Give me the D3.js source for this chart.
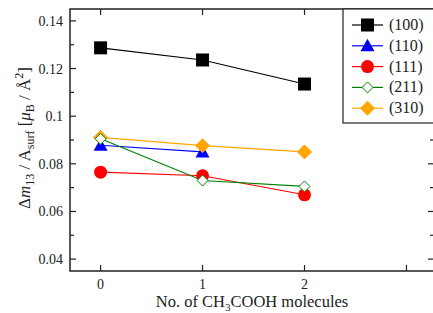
<!doctype html>
<html>
<head>
<style>
  body { margin: 0; background: #fff; }
</style>
<script src="https://d3js.org/d3.v7.min.js"></script>
</head>
<body>
<svg width="433" height="313" font-family="'Liberation Serif', 'Times New Roman', serif"></svg>
<script>
var molecules = [0, 1, 2];
var xTicks = [0, 1, 2, 3];
var yTicks = [0.04, 0.06, 0.08, 0.1, 0.12, 0.14];
var yMinor = [0.05, 0.07, 0.09, 0.11, 0.13];
var s100 = [0.1287, 0.1236, 0.1135];
var s110 = [0.0878, 0.0850];
var s111 = [0.0765, 0.0750, 0.0670];
var s211 = [0.0905, 0.0730, 0.0705];
var s310 = [0.0911, 0.0876, 0.0850];
var names = ["(100)", "(110)", "(111)", "(211)", "(310)"];

var series = [
  { name: names[0], vals: s100, color: "#000", shape: "square", fill: "#000" },
  { name: names[1], vals: s110, color: "#0000ff", shape: "triangle", fill: "#0000ff" },
  { name: names[2], vals: s111, color: "#ff0000", shape: "circle", fill: "#ff0000" },
  { name: names[3], vals: s211, color: "#008000", shape: "diamond", fill: "#fff" },
  { name: names[4], vals: s310, color: "#ffa500", shape: "diamond", fill: "#ffa500" }
];

var svg = d3.select("svg");
var pLeft = 70, pRight = 434, pTop = 9, pBottom = 271;

var x = d3.scaleLinear().domain([-0.3, 3.27]).range([pLeft, pRight]);
var y = d3.scaleLinear().domain([0.035, 0.145]).range([pBottom, pTop]);

// frame
svg.append("rect")
  .attr("x", pLeft).attr("y", pTop)
  .attr("width", pRight - pLeft).attr("height", pBottom - pTop)
  .attr("fill", "none").attr("stroke", "#222").attr("stroke-width", 1.5);

// ticks
var g = svg.append("g").attr("stroke", "#222").attr("stroke-width", 1.2);
xTicks.forEach(function(t) {
  g.append("line").attr("x1", x(t)).attr("x2", x(t)).attr("y1", pBottom).attr("y2", pBottom - 6);
  g.append("line").attr("x1", x(t)).attr("x2", x(t)).attr("y1", pTop).attr("y2", pTop + 6);
});
yTicks.forEach(function(t) {
  g.append("line").attr("x1", pLeft).attr("x2", pLeft + 6).attr("y1", y(t)).attr("y2", y(t));
  g.append("line").attr("x1", pRight).attr("x2", pRight - 6).attr("y1", y(t)).attr("y2", y(t));
});
yMinor.forEach(function(t) {
  g.append("line").attr("x1", pLeft).attr("x2", pLeft + 4).attr("y1", y(t)).attr("y2", y(t));
  g.append("line").attr("x1", pRight).attr("x2", pRight - 4).attr("y1", y(t)).attr("y2", y(t));
});

// tick labels
svg.selectAll(".xl").data(molecules).enter().append("text")
  .attr("x", function(d) { return x(d); }).attr("y", pBottom + 18)
  .attr("text-anchor", "middle").attr("font-size", 14).attr("fill", "#222")
  .text(function(d) { return d; });
svg.selectAll(".yl").data(yTicks).enter().append("text")
  .attr("x", pLeft - 7).attr("y", function(d) { return y(d) + 5; })
  .attr("text-anchor", "end").attr("font-size", 14).attr("fill", "#222")
  .text(function(d) { return d === 0.1 ? "0.1" : d.toFixed(2); });

// axis titles
var xt = svg.append("text").attr("x", (pLeft + pRight) / 2).attr("y", 307)
  .attr("text-anchor", "middle").attr("font-size", 16.5).attr("fill", "#222");
xt.append("tspan").text("No. of CH");
xt.append("tspan").attr("font-size", 11).attr("dy", 4).text("3");
xt.append("tspan").attr("dy", -4).text("COOH molecules");

var yt = svg.append("text")
  .attr("transform", "translate(30," + 138 + ") rotate(-90)")
  .attr("text-anchor", "middle").attr("font-size", 17).attr("fill", "#222");
yt.append("tspan").text("\u0394");
yt.append("tspan").attr("font-style", "italic").text("m");
yt.append("tspan").attr("font-size", 12).attr("dy", 4).text("13");
yt.append("tspan").attr("dy", -4).text(" / A");
yt.append("tspan").attr("font-size", 12).attr("dy", 4).text("surf");
yt.append("tspan").attr("dy", -4).text("  [");
yt.append("tspan").attr("font-style", "italic").text("\u03bc");
yt.append("tspan").attr("font-size", 12).attr("dy", 4).text("B");
yt.append("tspan").attr("dy", -4).text(" / \u00c5");
yt.append("tspan").attr("font-size", 12).attr("dy", -7).text("2");
yt.append("tspan").attr("dy", 7).text("]");

function drawMarker(sel, shape, color, fill, cx, cy) {
  if (shape === "square") {
    sel.append("rect").attr("x", cx - 6.5).attr("y", cy - 6.5).attr("width", 13).attr("height", 13)
      .attr("fill", fill);
  } else if (shape === "circle") {
    sel.append("circle").attr("cx", cx).attr("cy", cy).attr("r", 6.5).attr("fill", fill);
  } else if (shape === "triangle") {
    sel.append("path").attr("d", "M" + cx + "," + (cy - 7) + "L" + (cx + 7) + "," + (cy + 5.5) + "L" + (cx - 7) + "," + (cy + 5.5) + "Z")
      .attr("fill", fill);
  } else {
    var r = fill === "#fff" ? 5.5 : 7;
    sel.append("path").attr("d", "M" + cx + "," + (cy - r) + "L" + (cx + r) + "," + cy + "L" + cx + "," + (cy + r) + "L" + (cx - r) + "," + cy + "Z")
      .attr("fill", fill).attr("stroke", color).attr("stroke-width", 1);
  }
}

var line = d3.line().x(function(d, i) { return x(molecules[i]); }).y(function(d) { return y(d); });

series.forEach(function(s) {
  svg.append("path").datum(s.vals).attr("d", line)
    .attr("fill", "none").attr("stroke", s.color).attr("stroke-width", 1.2);
});
[0, 1, 2, 4, 3].forEach(function(k) {
  var s = series[k];
  var mg = svg.append("g");
  s.vals.forEach(function(v, i) { drawMarker(mg, s.shape, s.color, s.fill, x(molecules[i]), y(v)); });
});

// legend
var lg = svg.append("g");
lg.append("rect").attr("x", 343).attr("y", pTop).attr("width", 95).attr("height", 114)
  .attr("fill", "#fff").attr("stroke", "#222").attr("stroke-width", 1.2);
series.forEach(function(s, i) {
  var ly = 25 + i * 20.8;
  lg.append("line").attr("x1", 352).attr("x2", 383).attr("y1", ly).attr("y2", ly)
    .attr("stroke", s.color).attr("stroke-width", 1.2);
  drawMarker(lg, s.shape, s.color, s.fill, 367.5, ly);
  lg.append("text").attr("x", 389).attr("y", ly + 5).attr("font-size", 16).attr("fill", "#222").text(s.name);
});
</script>
</body>
</html>
